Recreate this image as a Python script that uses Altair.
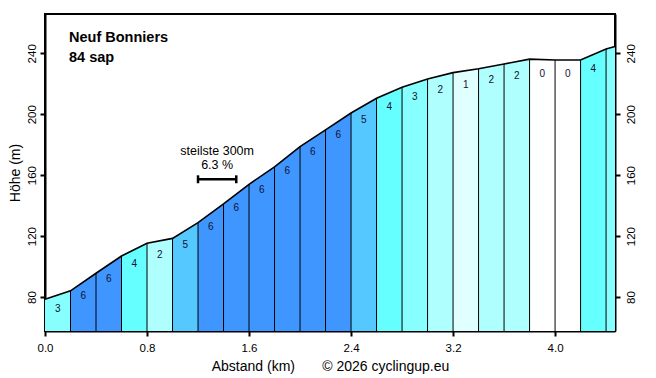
import altair as alt
import pandas as pd

# ---- data ----
km = [0.0, 0.2, 0.4, 0.6, 0.8, 1.0, 1.2, 1.4, 1.6, 1.8, 2.0, 2.2, 2.4, 2.6, 2.8,
      3.0, 3.2, 3.4, 3.6, 3.8, 4.0, 4.2, 4.4, 4.47]
elev = [78.5, 84.1, 95.6, 106.9, 115.3, 118.5, 128.8, 141.1, 154.0, 165.5, 178.7,
        189.7, 200.8, 210.5, 217.7, 223.1, 227.3, 229.9, 233.0, 236.2, 235.6, 235.6,
        242.8, 244.5]
grade = [3, 6, 6, 4, 2, 5, 6, 6, 6, 6, 6, 6, 5, 4, 3, 2, 1, 2, 2, 0, 0, 4, 3]
show_label = [True] * 22 + [False]

grade_domain = ["0", "1", "2", "3", "4", "5", "6"]
grade_colors = ["#ffffff", "#e0ffff", "#b0ffff", "#88ffff", "#66ffff", "#55c8ff", "#3f96ff"]

x_ticks = [0.0, 0.8, 1.6, 2.4, 3.2, 4.0]
y_ticks = [80, 120, 160, 200, 240]
X_DOMAIN = [0.0, 4.47]
Y_DOMAIN = [57.7, 265.8]

title_lines = ["Neuf Bonniers", "84 sap"]
steep_text = ["steilste 300m", "6.3 %"]
steep_from, steep_to = 1.2, 1.5
steep_bar_elev = 157.3
steep_text_elev = [175.9, 166.7]
x_title = "Abstand (km)\u00a0\u00a0\u00a0\u00a0\u00a0\u00a0\u00a0© 2026 cyclingup.eu"
y_title = "Höhe (m)"

FONT = "Liberation Sans"

# ---- tables ----
seg_rows = []
for i in range(len(grade)):
    seg_rows.append({"seg": i, "x": km[i], "e": elev[i], "g": str(grade[i])})
    seg_rows.append({"seg": i, "x": km[i + 1], "e": elev[i + 1], "g": str(grade[i])})
seg_df = pd.DataFrame(seg_rows)

prof_df = pd.DataFrame({"x": km, "e": elev})
div_df = pd.DataFrame({"x": km[1:-1], "e": elev[1:-1]})
lab_df = pd.DataFrame({
    "x": [(km[i] + km[i + 1]) / 2 for i in range(len(grade)) if show_label[i]],
    "e": [(elev[i] + elev[i + 1]) / 2 for i in range(len(grade)) if show_label[i]],
    "g": [str(grade[i]) for i in range(len(grade)) if show_label[i]],
})

xs = alt.Scale(domain=X_DOMAIN, nice=False, zero=False)
ys = alt.Scale(domain=Y_DOMAIN, nice=False, zero=False)

x_axis = alt.Axis(
    values=x_ticks, format=".1f", title=x_title, grid=False, labelFlush=False,
    tickSize=5, tickWidth=2, tickColor="black", domainColor="black", domainWidth=2,
    labelFontSize=11.5, labelColor="black", labelPadding=6, labelFont=FONT,
    titleFontSize=14, titleFontWeight="normal", titleColor="black", titleFont=FONT,
    titlePadding=6)


def X(field="x"):
    return alt.X(f"{field}:Q", scale=xs, axis=x_axis)


def Yn(field="e"):
    return alt.Y(f"{field}:Q", scale=ys, axis=None)


Yleft = alt.Y("e:Q", scale=ys, axis=alt.Axis(
    values=y_ticks, title=y_title, grid=False, orient="left", labelFlush=False,
    tickSize=5, tickWidth=2, tickColor="black", domainColor="black", domainWidth=2,
    labelFontSize=11.5, labelColor="black", labelAngle=270, labelAlign="center",
    labelBaseline="bottom", labelPadding=3, labelFont=FONT,
    titleFontSize=14, titleFontWeight="normal", titleColor="black", titleFont=FONT,
    titlePadding=4))

Yright = alt.Y("e:Q", scale=ys, axis=alt.Axis(
    values=y_ticks, title=None, grid=False, orient="right", labelFlush=False,
    tickSize=5, tickWidth=2, tickColor="black", domainColor="black", domainWidth=2,
    labelFontSize=11.5, labelColor="black", labelAngle=270, labelAlign="center",
    labelBaseline="top", labelPadding=5, labelFont=FONT))

area = alt.Chart(seg_df).mark_area(interpolate="linear").encode(
    x=X(), y=Yleft, y2=alt.datum(Y_DOMAIN[0]),
    color=alt.Color("g:N", scale=alt.Scale(domain=grade_domain, range=grade_colors), legend=None),
    detail="seg:N")

right_axis = alt.Chart(prof_df).mark_point(opacity=0).encode(x=X(), y=Yright)

dividers = alt.Chart(div_df).mark_rule(color="black", strokeWidth=1).encode(
    x=X(), y=Yn(), y2=alt.datum(Y_DOMAIN[0]))

top_line = alt.Chart(prof_df).mark_line(color="black", strokeWidth=1.6).encode(
    x=X(), y=Yn())

labels = alt.Chart(lab_df).mark_text(fontSize=10, font=FONT, color="#111133",
                                     baseline="middle", dy=14).encode(
    x=X(), y=Yn(), text="g:N")

steep_bar = alt.Chart(pd.DataFrame({"x": [steep_from], "b": [steep_to], "e": [steep_bar_elev]})).mark_rule(
    color="black", strokeWidth=2.5).encode(
    x=X(), x2="b:Q", y=Yn())
steep_ends = alt.Chart(pd.DataFrame({"x": [steep_from, steep_to],
                                     "e": [steep_bar_elev - 2.6] * 2,
                                     "hi": [steep_bar_elev + 2.6] * 2})).mark_rule(
    color="black", strokeWidth=2.5).encode(
    x=X(), y=Yn(), y2="hi:Q")
steep_lbl = alt.Chart(pd.DataFrame({"x": [(steep_from + steep_to) / 2] * 2,
                                    "e": steep_text_elev, "t": steep_text})).mark_text(
    fontSize=12.5, font=FONT, color="black", baseline="middle", align="center").encode(
    x=X(), y=Yn(), text="t:N")

title1 = alt.Chart(pd.DataFrame({"t": [title_lines[0]]})).mark_text(
    fontSize=14.5, fontWeight="bold", font=FONT, color="black", align="left",
    baseline="middle").encode(x=alt.value(24), y=alt.value(24), text="t:N")
title2 = alt.Chart(pd.DataFrame({"t": [title_lines[1]]})).mark_text(
    fontSize=14.5, fontWeight="bold", font=FONT, color="black", align="left",
    baseline="middle").encode(x=alt.value(24), y=alt.value(44), text="t:N")

chart = alt.layer(area, dividers, top_line, labels, steep_bar, steep_ends, steep_lbl,
                  title1, title2, right_axis).resolve_axis(y="independent").properties(
    width=570, height=317,
    autosize=alt.AutoSizeParams(type="none"),
    padding={"left": 37, "top": 6, "right": 33, "bottom": 46},
    background="white",
).configure_view(stroke="black", strokeWidth=2)

chart.save("out.html", embed_options={"renderer": "svg", "actions": False})
